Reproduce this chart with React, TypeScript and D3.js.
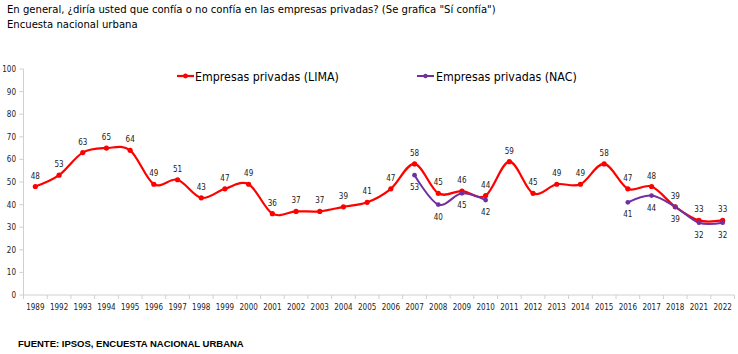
import React from "react";
import * as d3 from "d3";

const years = ["1989","1992","1993","1994","1995","1996","1997","1998","1999","2000","2001","2002","2003","2004","2005","2006","2007","2008","2009","2010","2011","2012","2013","2014","2015","2016","2017","2018","2021","2022"];
const lima = [48,53,63,65,64,49,51,43,47,49,36,37,37,39,41,47,58,45,46,44,59,45,49,49,58,47,48,39,33,33];
const nac: (number | null)[] = [null,null,null,null,null,null,null,null,null,null,null,null,null,null,null,null,53,40,45,42,null,null,null,null,null,41,44,39,32,32];
const yTicks = [0,10,20,30,40,50,60,70,80,90,100];
const titleLines = ["En general, ¿diría usted que confía o no confía en las empresas privadas? (Se grafica \"Sí confía\")", "Encuesta nacional urbana"];
const legendLabels = ["Empresas privadas (LIMA)", "Empresas privadas (NAC)"];
const source = "FUENTE: IPSOS, ENCUESTA NACIONAL URBANA";

const RED = "#FF0000";
const PURPLE = "#7030A0";
const FONT = "'DejaVu Sans Condensed', 'Liberation Sans Narrow', sans-serif";

export default function App() {
  const W = 738, H = 354;
  const left = 23.5, right = 734.5, top = 69, bottom = 295;
  const x = d3.scaleBand<string>().domain(years).range([left, right]);
  const y = d3.scaleLinear().domain([0, 100]).range([bottom, top]);
  const cx = (i: number) => (x(years[i]) as number) + x.bandwidth() / 2;

  const line = d3.line<number | null>()
    .defined((d) => d !== null)
    .x((_, i) => cx(i))
    .y((d) => y(d as number))
    .curve(d3.curveCardinal.tension(0));

  return (
    <svg width={W} height={H} style={{ position: "absolute", left: 0, top: 0, background: "#fff" }}>
      <rect width={W} height={H} fill="#fff" />
      {titleLines.map((t, i) => (
        <text key={i} x={7} y={13 + i * 15} fontFamily={FONT} fontSize={11.2} fill="#000">{t}</text>
      ))}
      {/* y axis */}
      <line x1={left} x2={left} y1={top} y2={bottom} stroke="#d0d0d0" />
      {yTicks.map((t) => (
        <g key={t}>
          <line x1={left - 4} x2={left} y1={y(t)} y2={y(t)} stroke="#d0d0d0" />
          <text x={16} y={y(t) + 3} textAnchor="end" fontFamily={FONT} fontSize={8} fill="#222">{t}</text>
        </g>
      ))}
      {/* x axis */}
      <line x1={left} x2={right} y1={bottom} y2={bottom} stroke="#d0d0d0" />
      {years.map((yr, i) => (
        <g key={yr}>
          <line x1={(x(yr) as number)} x2={(x(yr) as number)} y1={bottom} y2={bottom + 4} stroke="#d0d0d0" />
          <text x={cx(i)} y={310} textAnchor="middle" fontFamily={FONT} fontSize={8} fill="#222">{yr}</text>
        </g>
      ))}
      <line x1={right} x2={right} y1={bottom} y2={bottom + 4} stroke="#d0d0d0" />
      {/* lines */}
      <path d={line(lima) || ""} fill="none" stroke={RED} strokeWidth={2.2} />
      <path d={line(nac) || ""} fill="none" stroke={PURPLE} strokeWidth={2} />
      {lima.map((v, i) => (
        <circle key={"l" + i} cx={cx(i)} cy={y(v)} r={2.6} fill={RED} />
      ))}
      {nac.map((v, i) => v === null ? null : (
        <circle key={"n" + i} cx={cx(i)} cy={y(v)} r={2.4} fill={PURPLE} />
      ))}
      {lima.map((v, i) => (
        <text key={"lt" + i} x={cx(i)} y={y(v) - 8} textAnchor="middle" fontFamily={FONT} fontSize={8} fill="#222">{v}</text>
      ))}
      {nac.map((v, i) => v === null ? null : (
        <text key={"nt" + i} x={cx(i)} y={y(v) + 15} textAnchor="middle" fontFamily={FONT} fontSize={8} fill="#222">{v}</text>
      ))}
      {/* legend */}
      <g>
        <line x1={177} x2={194} y1={76} y2={76} stroke={RED} strokeWidth={2.2} />
        <circle cx={185.5} cy={76} r={2.4} fill={RED} />
        <text x={195} y={81} fontFamily={FONT} fontSize={12.3} fill="#000">{legendLabels[0]}</text>
        <line x1={417} x2={434} y1={76} y2={76} stroke={PURPLE} strokeWidth={2} />
        <circle cx={425.5} cy={76} r={2.2} fill={PURPLE} />
        <text x={436} y={81} fontFamily={FONT} fontSize={12.3} fill="#000">{legendLabels[1]}</text>
      </g>
      <text x={18} y={347} fontFamily="'Liberation Sans', Arial, sans-serif" fontWeight="bold" fontSize={9.5} fill="#000">{source}</text>
    </svg>
  );
}
